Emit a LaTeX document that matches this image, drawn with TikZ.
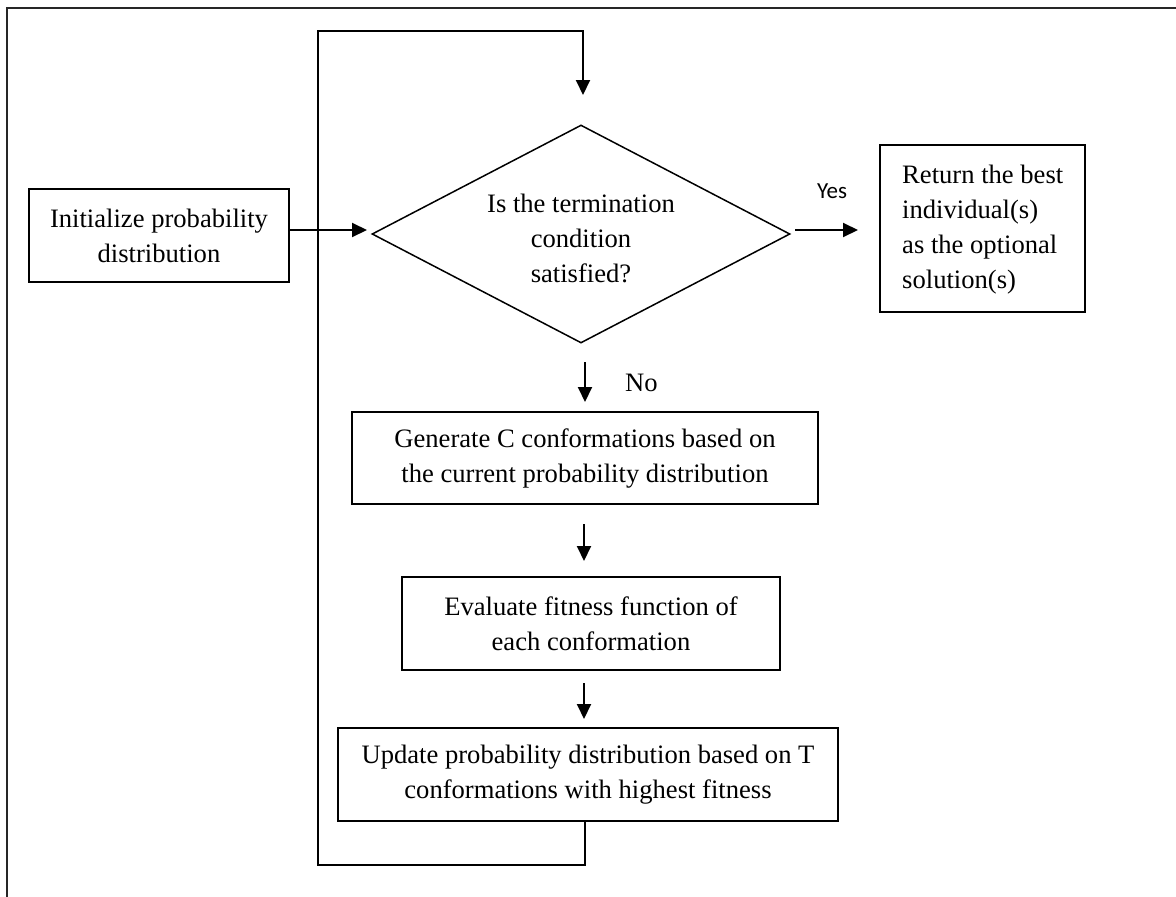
\documentclass[tikz,border=0pt]{standalone}
\usepackage{fontspec}
\setmainfont{Liberation Serif}
\newfontfamily\yesfont{Carlito}
\usetikzlibrary{shapes.geometric,arrows.meta}
\begin{document}
\begin{tikzpicture}[x=1pt,y=-1pt,
  box/.style={draw,line width=2pt,inner sep=0pt,align=center,
    font=\fontsize{26.6}{35}\selectfont},
  arr/.style={line width=2pt,-{Triangle[length=15pt,width=14pt]}},
  loopline/.style={line width=1.5pt},
  lbl/.style={inner sep=0pt,font=\fontsize{26.6}{35}\selectfont}]
\useasboundingbox (0,0) rectangle (1176,897);
% frame
\draw[line width=2pt,black!85] (7,897) -- (7,8) -- (1176,8);
% nodes
\node[box,minimum width=260pt,minimum height=93pt] (init) at (159,235.5)
  {Initialize probability\\distribution};
\node[draw,diamond,line width=1.5pt,inner sep=0pt,minimum width=418pt,minimum height=218pt] (dia) at (581,234) {};
\node[lbl,align=center] (diatext) at (581,238) {Is the termination\\condition\\satisfied?};
\node[box,minimum width=205pt,minimum height=167pt] (ret) at (982.5,228.5) {};
\node[lbl,align=left,anchor=west] (rettext) at (902,230) {Return the best\\individual(s)\\as the optional\\solution(s)};
\node[box,minimum width=466pt,minimum height=92pt] (gen) at (585,458)
  {Generate C conformations based on\\the current probability distribution};
\node[box,minimum width=378pt,minimum height=93pt] (eval) at (591,623.5)
  {Evaluate fitness function of\\each conformation};
\node[box,minimum width=500pt,minimum height=93pt] (upd) at (588,774.5)
  {Update probability distribution based on T\\conformations with highest fitness};
% labels
\node[inner sep=0pt,anchor=base,font=\yesfont\fontsize{23}{28}\selectfont] (yes) at (832,198) {Yes};
\node[lbl,anchor=base west] (no) at (625,391) {No};
% connectors
\draw[arr] (init.east |- 0,230) -- (367,230);
\draw[arr] (795,230) -- (858,230);
\coordinate (nostart) at (585,362);
\coordinate (noend) at (585,402);
\draw[arr] (nostart) -- (noend);
\draw[arr] ([yshift=-19pt]gen.south -| 584,0) -- ([yshift=15pt]eval.north -| 584,0);
\draw[arr] ([yshift=-12pt]eval.south -| 584,0) -- ([yshift=8pt]upd.north -| 584,0);
% loop back
\coordinate (lb) at (585,865);
\coordinate (ll) at (318,865);
\coordinate (lt) at (318,31);
\coordinate (lr) at (583,31);
\coordinate (ltip) at (583,95);
\draw[loopline] (upd.south -| lb) -- (lb) -- (ll) -- (lt) -- (lr);
\draw[arr] ([yshift=0.75pt]lr) -- (ltip);
\end{tikzpicture}
\end{document}
